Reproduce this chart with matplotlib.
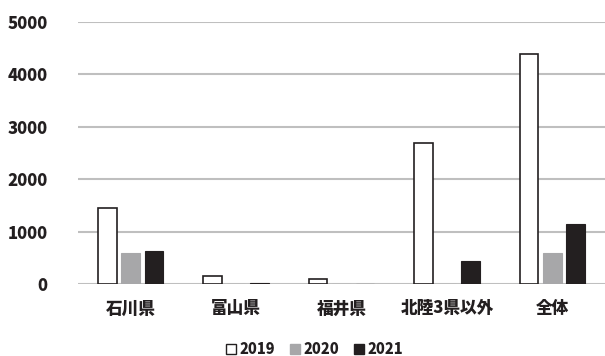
import numpy as np
import matplotlib.pyplot as plt
from matplotlib.patches import Patch

plt.rcParams['font.family'] = ['Noto Sans CJK JP', 'DejaVu Sans']
plt.rcParams['font.weight'] = 'heavy'

# 地域別の人数
regions = ['石川県', '富山県', '福井県', '北陸3県以外', '全体']
years = ['2019', '2020', '2021']
v2019 = [1450, 150, 100, 2700, 4400]
v2020 = [590, 0, 0, 0, 600]
v2021 = [640, 20, 0, 450, 1140]

fig = plt.figure(figsize=(6.05, 3.56), dpi=100)
ax = fig.add_axes([0.129, 0.202, 0.871, 0.736])

x = np.arange(len(regions))
w = 0.176
step = 0.222
ax.bar(x - step, v2019, w, color='white', edgecolor='#231f20', linewidth=1.2, zorder=3)
ax.bar(x, v2020, w, color='#a7a7a9', edgecolor='#a7a7a9', linewidth=0.8, zorder=3)
ax.bar(x + step, v2021, w, color='#231f20', edgecolor='#231f20', linewidth=0.8, zorder=3)

ax.set_xlim(-0.5, len(regions) - 0.5)
ax.set_ylim(0, 5000)
ax.set_yticks(range(0, 5001, 1000))
ax.yaxis.grid(True, color='#bfbfbf', linewidth=1.5)
ax.set_axisbelow(True)
for s in ax.spines.values():
    s.set_visible(False)
ax.tick_params(length=0)
ax.tick_params(axis='y', labelsize=12, pad=22, labelcolor='#231f20')
ax.tick_params(axis='x', labelsize=12, pad=11, labelcolor='#231f20')
ax.set_xticks(x)
ax.set_xticklabels(regions)

handles = [Patch(facecolor='white', edgecolor='#231f20', linewidth=1.0),
           Patch(facecolor='#a7a7a9', edgecolor='#a7a7a9'),
           Patch(facecolor='#231f20', edgecolor='#231f20')]
fig.legend(handles, years, loc='lower center', bbox_to_anchor=(0.52, -0.04), ncol=3,
           frameon=False, fontsize=10.5, handlelength=0.7, handleheight=0.7,
           handletextpad=0.25, columnspacing=1.0, labelcolor='#231f20')

fig.savefig('out.png', dpi=100)
